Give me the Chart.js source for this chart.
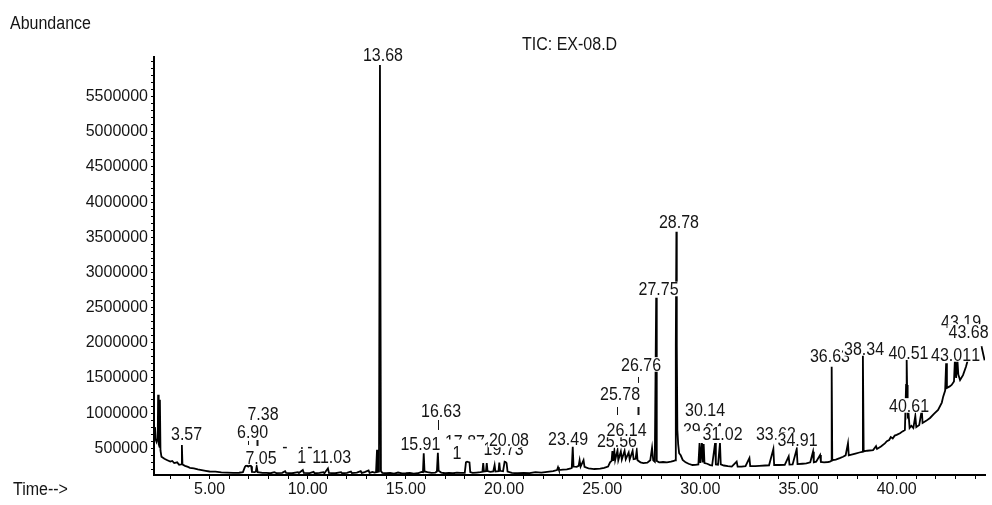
<!DOCTYPE html>
<html>
<head>
<meta charset="utf-8">
<script src="https://cdn.jsdelivr.net/npm/chart.js@4.4.1/dist/chart.umd.min.js"></script>
<style>
  html, body { margin: 0; padding: 0; background: #fff; }
  canvas { display: block; }
</style>
</head>
<body>
<canvas id="chart" width="992" height="505"></canvas>
<script>
// TIC trace, retention time (min) against abundance
const retentionTime = [
  // solvent front and early part
  2.17, 2.22, 2.26, 2.30, 2.36, 2.38, 2.41, 2.45, 2.47, 2.50,
  2.55, 2.70, 2.85, 3.00, 3.10, 3.20, 3.35, 3.45, 3.55, 3.59,
  3.62, 3.75, 3.90, 4.00, 4.20, 4.40, 4.60, 4.80, 5.00, 5.30,
  5.60, 5.90, 6.20, 6.50, 6.70, 6.80, 6.85, 6.90, 6.97, 7.05,
  7.12, 7.16, 7.30, 7.36, 7.40, 7.45, 7.70,
  // 8 - 14
  7.90, 8.10, 8.30, 8.40, 8.70, 8.85, 8.90, 9.20, 9.50, 9.55,
  9.75, 9.80, 10.10, 10.30, 10.35, 10.60, 10.80, 10.85, 11.03, 11.08,
  11.40, 11.70, 11.75, 12.00, 12.20, 12.25, 12.50, 12.70, 12.75, 12.90,
  13.10, 13.15, 13.30, 13.40, 13.48, 13.53, 13.57, 13.63, 13.68, 13.73,
  13.80,
  // 14 - 20.5
  14.00, 14.20, 14.40, 14.60, 14.80, 15.00, 15.20, 15.40, 15.60, 15.80,
  15.87, 15.91, 15.95, 16.10, 16.30, 16.50, 16.58, 16.63, 16.67, 16.80,
  17.00, 17.20, 17.40, 17.60, 17.80, 18.00, 18.06, 18.12, 18.18, 18.24,
  18.28, 18.40, 18.60, 18.80, 18.90, 18.94, 18.98, 19.08, 19.12, 19.16,
  19.30, 19.45, 19.52, 19.56, 19.72, 19.76, 19.80, 19.95, 20.03, 20.08,
  20.13, 20.18, 20.40,
  // 20.5 - 28.7
  20.70, 21.00, 21.30, 21.60, 21.90, 22.20, 22.50, 22.70, 22.75, 22.80,
  23.00, 23.20, 23.40, 23.45, 23.50, 23.54, 23.70, 23.80, 23.85, 23.90,
  24.05, 24.10, 24.30, 24.60, 24.90, 25.10, 25.30, 25.40, 25.48, 25.52,
  25.56, 25.62, 25.66, 25.78, 25.82, 25.95, 26.00, 26.14, 26.20, 26.35,
  26.40, 26.55, 26.60, 26.70, 26.76, 26.80, 26.95, 27.10, 27.30, 27.45,
  27.54, 27.60, 27.68, 27.75, 27.78, 27.90, 28.10, 28.30, 28.50, 28.65,
  // 28.7 - 36.7
  28.72, 28.75, 28.78, 28.80, 28.83, 28.87, 28.92, 29.00, 29.10, 29.25,
  29.40, 29.60, 29.75, 29.90, 29.96, 30.00, 30.08, 30.12, 30.17, 30.21,
  30.35, 30.50, 30.60, 30.75, 30.79, 30.90, 31.00, 31.04, 31.20, 31.40,
  31.60, 31.85, 31.90, 32.10, 32.30, 32.50, 32.54, 32.80, 33.00, 33.30,
  33.50, 33.72, 33.76, 34.00, 34.30, 34.50, 34.54, 34.70, 34.91, 34.95,
  35.20, 35.40, 35.60, 35.74, 35.78, 35.90, 36.10, 36.14, 36.30, 36.50,
  36.60, 36.66, 36.69, 36.72,
  // 36.9 - end (column bleed)
  36.90, 37.10, 37.27, 37.40, 37.52, 37.56, 37.70, 37.90, 38.10, 38.24,
  38.28, 38.32, 38.50, 38.80, 38.95, 39.00, 39.20, 39.40, 39.50, 39.62,
  39.70, 39.80, 39.90, 40.00, 40.17, 40.30, 40.42, 40.48, 40.51, 40.53,
  40.56, 40.61, 40.66, 40.75, 40.85, 40.95, 41.00, 41.15, 41.28, 41.32,
  41.50, 41.70, 41.90, 42.11, 42.30, 42.37, 42.47, 42.52, 42.56, 42.70,
  42.80, 42.92, 42.97, 43.03, 43.09, 43.14, 43.23, 43.38, 43.53, 43.65,
  44.00, 44.32, 44.48
]

const abundance = [
  660000, 800000, 620000, 590000, 640000, 1260000, 560000, 520000, 1190000, 470000,
  380000, 350000, 330000, 310000, 320000, 290000, 300000, 265000, 270000, 545000,
  270000, 250000, 235000, 222000, 215000, 200000, 190000, 180000, 170000, 168000,
  158000, 155000, 150000, 152000, 160000, 235000, 250000, 255000, 240000, 255000,
  245000, 165000, 160000, 170000, 240000, 160000, 150000,

  150000, 145000, 160000, 148000, 150000, 175000, 150000, 145000, 160000, 148000,
  190000, 150000, 148000, 165000, 145000, 150000, 160000, 145000, 215000, 150000,
  145000, 160000, 145000, 150000, 170000, 148000, 155000, 175000, 150000, 160000,
  185000, 150000, 165000, 155000, 160000, 480000, 165000, 170000, 5950000, 175000,
  150000,

  145000, 150000, 140000, 155000, 142000, 145000, 150000, 140000, 145000, 165000,
  160000, 430000, 170000, 160000, 150000, 155000, 170000, 435000, 180000, 155000,
  145000, 150000, 145000, 155000, 150000, 150000, 300000, 310000, 305000, 300000,
  160000, 150000, 155000, 160000, 165000, 290000, 170000, 175000, 290000, 175000,
  165000, 170000, 260000, 170000, 175000, 295000, 180000, 175000, 310000, 305000,
  290000, 170000, 150000,

  145000, 150000, 148000, 160000, 155000, 165000, 175000, 190000, 230000, 190000,
  195000, 200000, 215000, 220000, 520000, 240000, 235000, 250000, 330000, 240000,
  330000, 235000, 215000, 205000, 210000, 220000, 240000, 300000, 320000, 460000,
  320000, 460000, 330000, 470000, 330000, 455000, 340000, 465000, 345000, 440000,
  340000, 465000, 345000, 350000, 470000, 330000, 300000, 290000, 295000, 330000,
  505000, 330000, 310000, 2640000, 320000, 300000, 305000, 300000, 310000, 320000,

  330000, 1970000, 3580000, 1970000, 760000, 560000, 430000, 400000, 335000, 300000,
  280000, 262000, 265000, 270000, 575000, 290000, 575000, 300000, 560000, 290000,
  280000, 260000, 255000, 575000, 270000, 265000, 575000, 270000, 255000, 245000,
  240000, 310000, 240000, 238000, 245000, 360000, 245000, 245000, 250000, 255000,
  258000, 490000, 262000, 262000, 265000, 386000, 268000, 270000, 490000, 275000,
  280000, 285000, 300000, 452000, 300000, 310000, 405000, 305000, 300000, 305000,
  310000, 320000, 1660000, 330000,

  340000, 360000, 380000, 400000, 571000, 400000, 410000, 425000, 440000, 450000,
  1826000, 455000, 465000, 475000, 530000, 490000, 525000, 570000, 600000, 618000,
  660000, 640000, 680000, 690000, 713000, 740000, 760000, 1400000, 1760000, 1400000,
  950000, 975000, 790000, 820000, 789000, 960000, 800000, 830000, 1045000, 860000,
  890000, 931000, 990000, 1045000, 1150000, 1234000, 1320000, 1710000, 1357000, 1380000,
  1400000, 1450000, 1780000, 1500000, 1780000, 1550000, 1470000, 1540000, 1660000, 1780000,
  null, 1950000, 1750000
]

// axis ranges and ticks
const timeRange = [2.17, 44.5]
const abundanceRange = [120000, 6064000]
const timeTicks = []
for (let m = 3; m <= 44; m++) timeTicks.push(m)
const abundanceTicks = []
for (let a = 200000; a <= 6000000; a += 100000) abundanceTicks.push(a)
const lastLabelledAbundance = 5500000

// peak labels as printed by the integrator (drawn in this order, each on a white box
// so later labels hide parts of earlier ones, like on the printout)
const labels = [
  { text: '3.57', t: 3.83, v: 703000 },
  { text: '7.05', t: 7.62, v: 369000 },
  { text: '6.90', t: 7.19, v: 732000 },
  { text: '7.38', t: 7.72, v: 988000 },
  { text: '-', t: 8.84, v: 518000 },
  { text: '·', t: 9.71, v: 518000 },
  { text: '-', t: 10.11, v: 518000 },
  { text: '1', t: 9.69, v: 376000 },
  { text: '11.03', t: 11.22, v: 376000 },
  { text: '13.68', t: 13.83, v: 6093000 },
  { text: '15.91', t: 15.74, v: 568000 },
  { text: '17.87', t: 18.01, v: 597000, top: 0.35 },
  { text: '1', t: 17.60, v: 440000 },
  { text: '16.63', t: 16.79, v: 1030000 },
  { text: '19.73', t: 19.98, v: 497000 },
  { text: '20.08', t: 20.25, v: 618000 },
  { text: '23.49', t: 23.26, v: 639000 },
  { text: '25.56', t: 25.75, v: 611000 },
  { text: '26.14', t: 26.24, v: 760000 },
  { text: '25.78', t: 25.91, v: 1279000 },
  { text: '26.76', t: 26.98, v: 1692000 },
  { text: '27.75', t: 27.87, v: 2765000 },
  { text: '28.78', t: 28.91, v: 3725000 },
  { text: '29.94', t: 30.13, v: 760000, top: 0.6 },
  { text: '31.02', t: 31.13, v: 710000 },
  { text: '30.14', t: 30.24, v: 1045000 },
  { text: '33.63', t: 33.85, v: 710000 },
  { text: '34.91', t: 34.95, v: 618000 },
  { text: '36.63', t: 36.60, v: 1812000 },
  { text: '38.34', t: 38.34, v: 1919000 },
  { text: '40.51', t: 40.60, v: 1862000 },
  { text: '40.61', t: 40.63, v: 1109000 },
  { text: '1', t: 44.02, v: 1834000 },
  { text: '43.01', t: 42.77, v: 1834000 },
  { text: '43.19', t: 43.28, v: 2303000 },
  { text: '43.68', t: 43.66, v: 2161000 }
]

// leader lines between moved labels and their peaks
const leaders = [
  { t: 6.97, from: 604000, to: 547000 },
  { t: 7.43, from: 618000, to: 533000, w: 2 },
  { t: 16.63, from: 902000, to: 760000 },
  { t: 25.77, from: 1087000, to: 973000 },
  { t: 26.81, from: 1514000, to: 1429000 },
  { t: 26.81, from: 1087000, to: 973000, w: 2 }
]

const FONT = '"Liberation Sans", Arial, sans-serif'
const INK = '#151515'

function stretchedText(ctx, text, x, y, align) {
  // y is the baseline, glyphs a bit taller like the printer font
  ctx.save()
  ctx.translate(x, y)
  ctx.scale(1, 1.1)
  ctx.textAlign = align
  ctx.textBaseline = 'alphabetic'
  ctx.fillText(text, 0, 0)
  ctx.restore()
}

const peakLabels = {
  id: 'peakLabels',
  afterDatasetsDraw(chart) {
    const { ctx, scales: { x, y } } = chart
    ctx.save()
    ctx.font = '16px ' + FONT
    ctx.strokeStyle = INK
    leaders.forEach(l => {
      ctx.lineWidth = l.w || 1
      const px = Math.round(x.getPixelForValue(l.t)) + 0.5
      ctx.beginPath()
      ctx.moveTo(px, y.getPixelForValue(l.from))
      ctx.lineTo(px, y.getPixelForValue(l.to))
      ctx.stroke()
    })
    const capH = 16 * 0.716 * 1.1
    labels.forEach(l => {
      const px = x.getPixelForValue(l.t)
      const py = y.getPixelForValue(l.v)
      const w = ctx.measureText(l.text).width
      ctx.fillStyle = '#fff'
      ctx.fillRect(px - w / 2 - 1, py - capH / 2 - 1, w + 2, capH + 2)
      ctx.save()
      if (l.top) {
        ctx.beginPath()
        ctx.rect(px - w / 2 - 1, py - capH / 2 - 1, w + 2, capH * l.top + 1)
        ctx.clip()
      }
      ctx.fillStyle = INK
      stretchedText(ctx, l.text, px, py + capH / 2, 'center')
      ctx.restore()
    })
    ctx.restore()
  },
  afterDraw(chart) {
    const ctx = chart.ctx
    ctx.save()
    ctx.font = '16px ' + FONT
    ctx.fillStyle = INK
    stretchedText(ctx, 'Abundance', 10, 29, 'left')
    stretchedText(ctx, 'TIC: EX-08.D', 522, 50, 'left')
    stretchedText(ctx, 'Time-->', 13, 495, 'left')
    ctx.restore()
  }
}

const points = retentionTime.map((t, i) => ({ x: t, y: abundance[i] }))

new Chart(document.getElementById('chart'), {
  type: 'line',
  data: {
    datasets: [{
      data: points,
      borderColor: '#000',
      borderWidth: 1.8,
      pointRadius: 0,
      tension: 0,
      fill: false,
      spanGaps: false
    }]
  },
  options: {
    responsive: false,
    animation: false,
    events: [],
    layout: { padding: { top: 57, right: 7, left: 0, bottom: 0 } },
    plugins: {
      legend: { display: false },
      tooltip: { enabled: false }
    },
    scales: {
      x: {
        type: 'linear',
        min: timeRange[0],
        max: timeRange[1],
        afterBuildTicks: s => { s.ticks = timeTicks.map(v => ({ value: v })) },
        afterFit: s => { s.height = 30 },
        grid: { drawOnChartArea: false, tickLength: 4, color: '#000' },
        border: { color: '#000', width: 2 },
        ticks: {
          autoSkip: false,
          maxRotation: 0,
          padding: 1,
          color: INK,
          font: { family: FONT, size: 16 },
          callback: v => v % 5 === 0 ? v.toFixed(2) : ''
        }
      },
      y: {
        min: abundanceRange[0],
        max: abundanceRange[1],
        afterBuildTicks: s => { s.ticks = abundanceTicks.map(v => ({ value: v })) },
        afterFit: s => { s.width = 154 },
        grid: { drawOnChartArea: false, tickLength: 3, color: '#000' },
        border: { color: '#000', width: 2 },
        ticks: {
          autoSkip: false,
          padding: 3,
          color: INK,
          font: { family: FONT, size: 16 },
          callback: v => (v % 500000 === 0 && v <= lastLabelledAbundance) ? String(v) : ''
        }
      }
    }
  },
  plugins: [peakLabels]
})
</script>
</body>
</html>
